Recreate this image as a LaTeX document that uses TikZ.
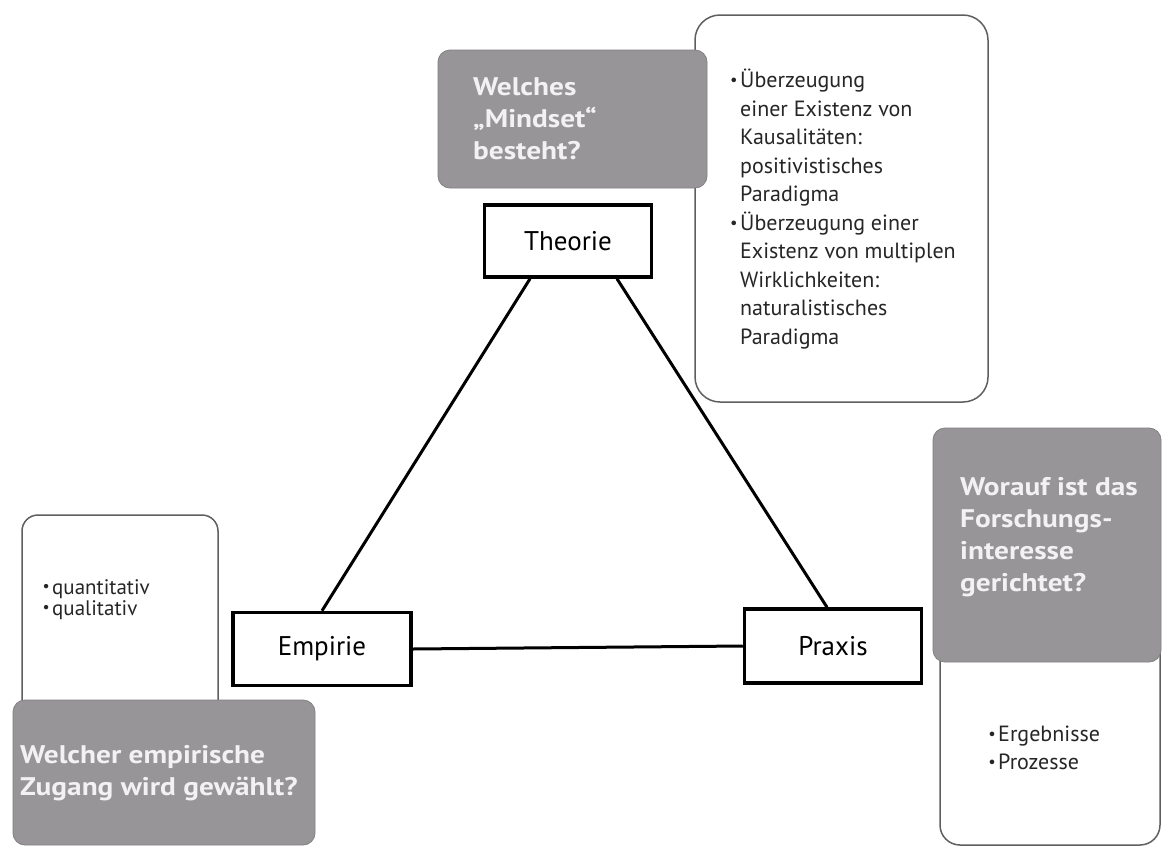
\documentclass[tikz,border=0pt]{standalone}
\usepackage{fontspec}
\setmainfont{PT Sans}
\newfontfamily\qfont{PT Sans}[FakeStretch=1.15]
\definecolor{qgray}{RGB}{152,149,152}
\definecolor{qtextcol}{RGB}{242,242,242}
\definecolor{panelline}{RGB}{95,95,95}
\newcommand\bul{\llap{\raisebox{0.2ex}{\scalebox{0.75}{•}}\hspace{2.5pt}}}
\begin{document}
\begin{tikzpicture}[x=1pt,y=-1pt,
  corner/.style={draw, line width=3.5pt, inner sep=0pt,
    font=\fontsize{27}{30}\selectfont},
  link/.style={line width=3pt},
  panel/.style={draw=panelline, line width=1.5pt, fill=white},
  question/.style={fill=qgray, draw=qgray!85!black, line width=0.8pt},
  qtext/.style={text=qtextcol, font=\qfont\bfseries\fontsize{25.5}{32}\selectfont,
    align=left, inner sep=0pt, anchor=north west},
  listtext/.style={align=left, inner sep=0pt, anchor=north west,
    text=black!85}
]
\useasboundingbox (0,0) rectangle (1163,847);
\fill[white] (0,0) rectangle (1163,847);

% white panels with the answer lists
\draw[panel, rounded corners=25pt] (695,15) rectangle (988,402);
\draw[panel, rounded corners=16pt] (22,515) rectangle (218,730);
\draw[panel, rounded corners=20pt] (940,630) rectangle (1160,845);

% grey question boxes
\draw[question, rounded corners=12pt] (438,50) rectangle (707,188);
\draw[question, rounded corners=12pt] (933,428) rectangle (1161,662);
\draw[question, rounded corners=12pt] (13,700) rectangle (315,845);

% questions
\node[qtext] (qmind) at (473,77) {Welches\\„Mindset“\\besteht?};
\node[qtext] (qint) at (960,477) {Worauf ist das\\Forschungs-\\interesse\\gerichtet?};
\node[qtext] (qemp) at (20,745) {Welcher empirische\\Zugang wird gewählt?};

% answer lists
\node[listtext, font=\fontsize{22}{28.5}\selectfont] (lmind) at (740,69)
  {\bul Überzeugung\\einer Existenz von\\Kausalitäten:\\positivistisches\\Paradigma\\
   \bul Überzeugung einer\\Existenz von multiplen\\Wirklichkeiten:\\naturalistisches\\Paradigma};
\node[listtext, font=\fontsize{22}{28}\selectfont] (lint) at (998,726)
  {\bul Ergebnisse\\\bul Prozesse};
\node[listtext, font=\fontsize{21}{21}\selectfont] (lemp) at (52,579)
  {\bul quantitativ\\\bul qualitativ};

% the three corners of the triangle
\node[corner, minimum width=167pt, minimum height=72pt] (theorie) at (568,241) {Theorie};
\node[corner, minimum width=178pt, minimum height=73pt] (empirie) at (322,649) {Empirie};
\node[corner, minimum width=177pt, minimum height=74pt] (praxis) at (833,646) {Praxis};

% triangle sides
\draw[link] ([xshift=-38pt]theorie.south) -- (empirie.north);
\draw[link] ([xshift=49pt]theorie.south) -- ([xshift=-6pt]praxis.north);
\draw[link] (empirie.east) -- (praxis.west);
\end{tikzpicture}
\end{document}
